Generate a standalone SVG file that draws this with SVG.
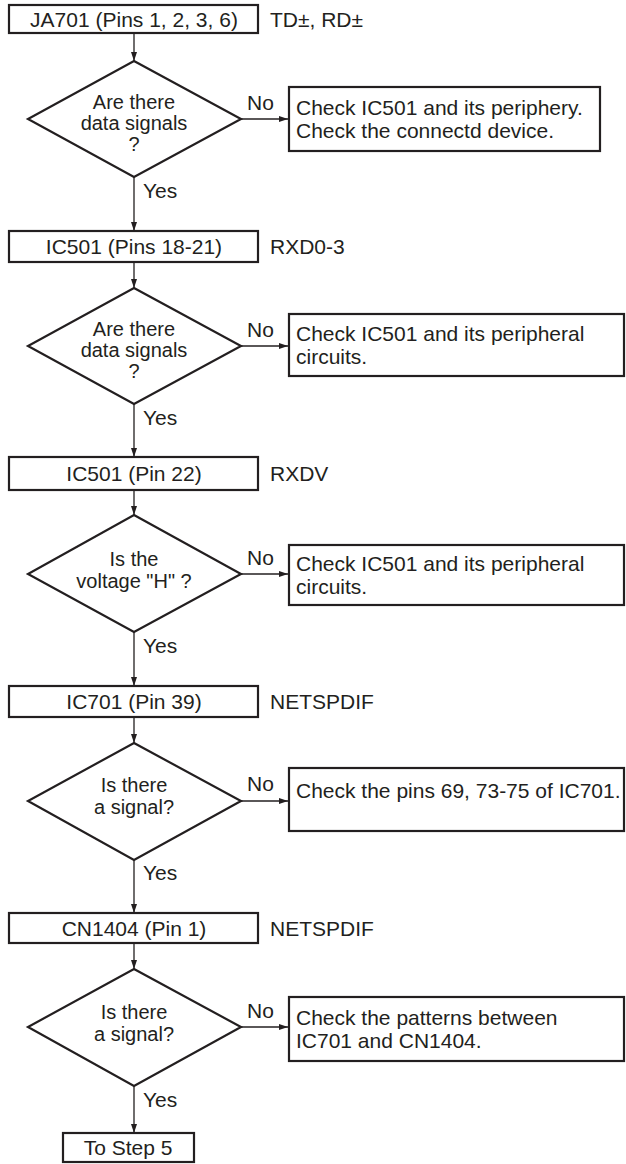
<svg xmlns="http://www.w3.org/2000/svg" width="626" height="1164" viewBox="0 0 626 1164">
  <style>
    text { font-family: "Liberation Sans", Arial, sans-serif; font-size: 21px; fill: #231f20; }
    .c { text-anchor: middle; }
    .q { font-size: 20px; }
    .box { fill: #ffffff; stroke: #231f20; stroke-width: 2.2; }
    .dia { fill: #ffffff; stroke: #231f20; stroke-width: 2.2; stroke-linejoin: miter; }
    .wire { fill: none; stroke: #231f20; stroke-width: 1.3; }
  </style>
  <defs>
    <marker id="arrow" markerUnits="userSpaceOnUse" markerWidth="9" markerHeight="6" refX="9" refY="3" orient="auto">
      <path d="M0,0 L9,3 L0,6 z" fill="#231f20"/>
    </marker>
  </defs>
  <rect width="626" height="1164" fill="#ffffff"/>

  <!-- connectors -->
  <g id="connectors" class="wire" marker-end="url(#arrow)">
    <line x1="134" y1="33" x2="134" y2="61"/>
    <line x1="241" y1="119" x2="288" y2="119"/>
    <line x1="134" y1="177" x2="134" y2="231"/>
    <line x1="134" y1="262" x2="134" y2="288"/>
    <line x1="241" y1="346" x2="288" y2="346"/>
    <line x1="134" y1="404" x2="134" y2="457"/>
    <line x1="134" y1="490" x2="134" y2="515"/>
    <line x1="241" y1="574" x2="288" y2="574"/>
    <line x1="134" y1="632" x2="134" y2="686"/>
    <line x1="134" y1="717" x2="134" y2="743"/>
    <line x1="241" y1="801" x2="288" y2="801"/>
    <line x1="134" y1="860" x2="134" y2="913"/>
    <line x1="134" y1="943" x2="134" y2="969"/>
    <line x1="241" y1="1027" x2="288" y2="1027"/>
    <line x1="134" y1="1086" x2="134" y2="1133"/>
  </g>

  <!-- connector labels -->
  <g id="labels">
    <text x="247" y="110">No</text>
    <text x="143" y="198">Yes</text>
    <text x="247" y="337">No</text>
    <text x="143" y="425">Yes</text>
    <text x="247" y="565">No</text>
    <text x="143" y="653">Yes</text>
    <text x="247" y="791">No</text>
    <text x="143" y="880">Yes</text>
    <text x="247" y="1018">No</text>
    <text x="143" y="1107">Yes</text>
  </g>

  <!-- step 1 -->
  <g id="ja701">
    <rect class="box" x="9" y="5" width="249" height="28"/>
    <text class="c" x="134" y="27">JA701 (Pins 1, 2, 3, 6)</text>
    <text x="270" y="27">TD±, RD±</text>
  </g>
  <g id="q1">
    <polygon class="dia" points="134,61 241,119 134,177 28,119"/>
    <text class="c q" x="134" y="109">Are there</text>
    <text class="c q" x="134" y="130">data signals</text>
    <text class="c q" x="134" y="151">?</text>
  </g>
  <g id="fix1">
    <rect class="box" x="289" y="87" width="311" height="64"/>
    <text x="296" y="115">Check IC501 and its periphery.</text>
    <text x="296" y="138">Check the connectd device.</text>
  </g>

  <!-- step 2 -->
  <g id="ic501-rxd">
    <rect class="box" x="9" y="231" width="249" height="31"/>
    <text class="c" x="134" y="254">IC501 (Pins 18-21)</text>
    <text x="270" y="254">RXD0-3</text>
  </g>
  <g id="q2">
    <polygon class="dia" points="134,288 241,346 134,404 28,346"/>
    <text class="c q" x="134" y="336">Are there</text>
    <text class="c q" x="134" y="357">data signals</text>
    <text class="c q" x="134" y="378">?</text>
  </g>
  <g id="fix2">
    <rect class="box" x="289" y="314" width="335" height="62"/>
    <text x="296" y="341">Check IC501 and its peripheral</text>
    <text x="296" y="364">circuits.</text>
  </g>

  <!-- step 3 -->
  <g id="ic501-rxdv">
    <rect class="box" x="9" y="457" width="249" height="33"/>
    <text class="c" x="134" y="481">IC501 (Pin 22)</text>
    <text x="270" y="481">RXDV</text>
  </g>
  <g id="q3">
    <polygon class="dia" points="134,515 241,574 134,632 28,574"/>
    <text class="c q" x="134" y="566">Is the</text>
    <text class="c q" x="134" y="588">voltage "H" ?</text>
  </g>
  <g id="fix3">
    <rect class="box" x="289" y="545" width="335" height="60"/>
    <text x="296" y="571">Check IC501 and its peripheral</text>
    <text x="296" y="594">circuits.</text>
  </g>

  <!-- step 4 -->
  <g id="ic701">
    <rect class="box" x="9" y="686" width="249" height="31"/>
    <text class="c" x="134" y="709">IC701 (Pin 39)</text>
    <text x="270" y="709">NETSPDIF</text>
  </g>
  <g id="q4">
    <polygon class="dia" points="134,743 241,801 134,860 28,801"/>
    <text class="c q" x="134" y="792">Is there</text>
    <text class="c q" x="134" y="814">a signal?</text>
  </g>
  <g id="fix4">
    <rect class="box" x="289" y="768" width="335" height="63"/>
    <text x="296" y="798">Check the pins 69, 73-75 of IC701.</text>
  </g>

  <!-- step 5 -->
  <g id="cn1404">
    <rect class="box" x="9" y="913" width="249" height="30"/>
    <text class="c" x="134" y="936">CN1404 (Pin 1)</text>
    <text x="270" y="936">NETSPDIF</text>
  </g>
  <g id="q5">
    <polygon class="dia" points="134,969 241,1027 134,1086 28,1027"/>
    <text class="c q" x="134" y="1019">Is there</text>
    <text class="c q" x="134" y="1041">a signal?</text>
  </g>
  <g id="fix5">
    <rect class="box" x="289" y="997" width="335" height="64"/>
    <text x="296" y="1025">Check the patterns between</text>
    <text x="296" y="1048">IC701 and CN1404.</text>
  </g>

  <!-- exit -->
  <g id="next">
    <rect class="box" x="63" y="1133" width="131" height="29"/>
    <text class="c" x="128" y="1155">To Step 5</text>
  </g>
</svg>
